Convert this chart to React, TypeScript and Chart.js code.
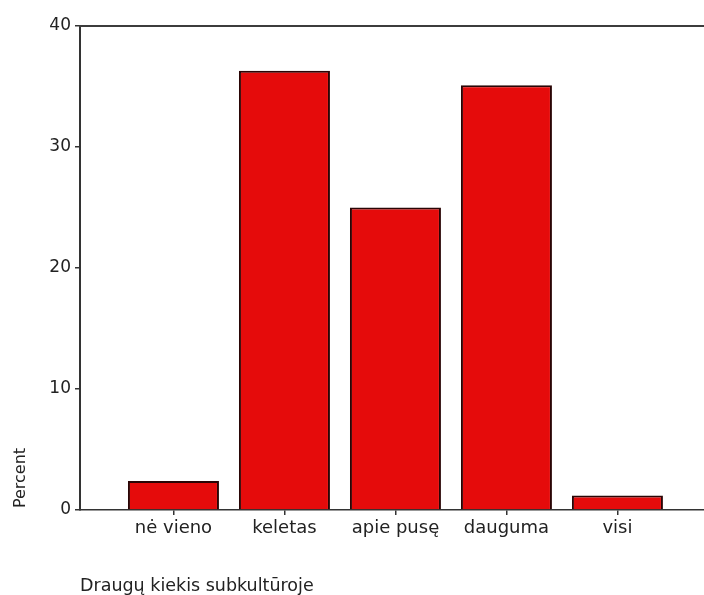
import React, { useEffect, useRef } from "react";
import { Chart, registerables } from "chart.js";

Chart.register(...registerables);

const categories = ["nė vieno", "keletas", "apie pusę", "dauguma", "visi"];
const percentValues = [2.4, 36.3, 25.0, 35.1, 1.2];
const yTicks = [0, 10, 20, 30, 40];
const xAxisTitle = "Draugų kiekis subkultūroje";
const yAxisTitle = "Percent";

const FONT = "'DejaVu Sans', sans-serif";

const framePlugin = {
  id: "frame",
  afterDraw(chart: any) {
    const { ctx, chartArea, scales } = chart;
    const y = scales.y;
    ctx.save();
    ctx.strokeStyle = "#3c3c3c";
    ctx.lineWidth = 2;
    ctx.beginPath();
    const yTop = y.getPixelForValue(yTicks[yTicks.length - 1]);
    ctx.moveTo(chartArea.left - 1, yTop);
    ctx.lineTo(chart.width, yTop);
    ctx.stroke();
    ctx.fillStyle = "#222";
    ctx.font = `17.5px ${FONT}`;
    ctx.textAlign = "left";
    ctx.textBaseline = "alphabetic";
    ctx.fillText(xAxisTitle, chartArea.left, 591);
    ctx.translate(25, y.getPixelForValue(0) - 32);
    ctx.rotate(-Math.PI / 2);
    ctx.font = `16px ${FONT}`;
    ctx.textAlign = "center";
    ctx.fillText(yAxisTitle, 0, 0);
    ctx.restore();
  },
};

export default function App() {
  const ref = useRef<HTMLCanvasElement | null>(null);

  useEffect(() => {
    if (!ref.current) return;
    const chart = new Chart(ref.current, {
      type: "bar",
      data: {
        datasets: [
          {
            data: percentValues.map((v, i) => ({ x: i, y: v })),
            backgroundColor: "#e50b0b",
            borderColor: "#2a0505",
            borderWidth: 2,
            categoryPercentage: 1,
            barPercentage: 0.82,
          },
        ],
      },
      options: {
        animation: false,
        responsive: false,
        layout: { padding: { top: 26, left: 0, right: 0, bottom: 0 } },
        plugins: { legend: { display: false }, tooltip: { enabled: false } },
        scales: {
          x: {
            type: "linear",
            offset: false,
            min: -0.842,
            max: 4.78,
            afterFit: (s: any) => {
              s.height = 85;
            },
            afterBuildTicks: (s: any) => {
              s.ticks = categories.map((_, i) => ({ value: i }));
            },
            grid: {
              offset: false,
              drawOnChartArea: false,
              drawTicks: true,
              tickLength: 5,
              color: "#333",
              lineWidth: 1.5,
            },
            border: { display: true, color: "#333", width: 1.5 },
            ticks: {
              autoSkip: false,
              maxRotation: 0,
              padding: 3,
              color: "#222",
              font: { family: FONT, size: 18 },
              callback: (v: any) => categories[v] ?? "",
            },
          },
          y: {
            min: 0,
            max: 40,
            afterFit: (s: any) => {
              s.width = 80;
            },
            afterBuildTicks: (s: any) => {
              s.ticks = yTicks.map((v) => ({ value: v }));
            },
            grid: {
              drawOnChartArea: false,
              drawTicks: true,
              tickLength: 5,
              color: "#333",
              lineWidth: 1.5,
            },
            border: { display: true, color: "#333", width: 2 },
            ticks: {
              padding: 4,
              color: "#222",
              font: { family: FONT, size: 17 },
            },
          },
        },
      },
      plugins: [framePlugin],
    });
    return () => chart.destroy();
  }, []);

  return (
    <div style={{ position: "absolute", left: 0, top: 0, width: 704, height: 595, background: "#fff" }}>
      <canvas ref={ref} width={704} height={595} />
    </div>
  );
}
